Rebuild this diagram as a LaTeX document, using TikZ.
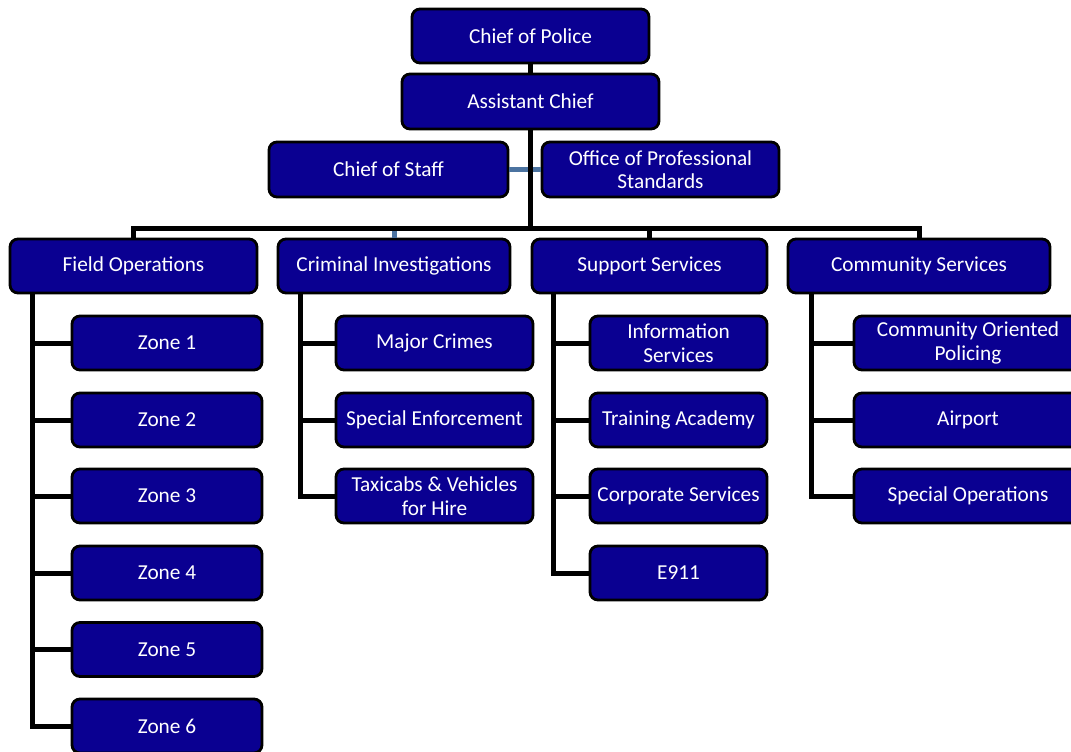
\documentclass[tikz,border=0pt]{standalone}
\usepackage{fontspec}
\setmainfont{Carlito}
\definecolor{boxblue}{RGB}{10,0,145}
\definecolor{linkblue}{RGB}{75,115,160}
\begin{document}
\begin{tikzpicture}[x=1pt,y=-1pt,
  box/.style={draw=black, line width=2.8pt, fill=boxblue, rounded corners=8pt,
    text=white, font=\fontsize{21.3}{23.5}\selectfont, align=center, inner sep=0pt,
    minimum height=54pt},
  conn/.style={draw=black, line width=5pt},
  bconn/.style={draw=linkblue, line width=5pt}]
\useasboundingbox (0,0) rectangle (1071,752);
\clip (0,0) rectangle (1071,752);
\fill[white] (0,0) rectangle (1071,752);
% top
\node[box, minimum width=237pt] (cop) at (530.5,36) {Chief of Police};
\node[box, minimum width=257pt, minimum height=55pt] (ac) at (530.5,101.5) {Assistant Chief};
\node[box, minimum width=239pt, minimum height=55pt] (cos) at (388.5,169.5) {Chief of Staff};
\node[box, minimum width=237pt, minimum height=55pt] (ops) at (660.5,169.5) {Office of Professional\\Standards};
% level 2
\node[box, minimum width=247pt] (fo) at (133.5,266) {Field Operations};
\node[box, minimum width=232pt] (ci) at (394,266) {Criminal Investigations};
\node[box, minimum width=235pt] (ss) at (649.5,266) {Support Services};
\node[box, minimum width=262pt] (cs) at (919,266) {Community Services};
% zones
\node[box, minimum width=190pt] (z1) at (167,343) {Zone 1};
\node[box, minimum width=190pt] (z2) at (167,420) {Zone 2};
\node[box, minimum width=190pt] (z3) at (167,496) {Zone 3};
\node[box, minimum width=190pt] (z4) at (167,573) {Zone 4};
\node[box, minimum width=190pt] (z5) at (167,649.5) {Zone 5};
\node[box, minimum width=190pt] (z6) at (167,726) {Zone 6};
% criminal
\node[box, minimum width=197pt] (c1) at (434.5,343) {Major Crimes};
\node[box, minimum width=197pt] (c2) at (434.5,420) {Special Enforcement};
\node[box, minimum width=197pt] (c3) at (434.5,496) {Taxicabs \& Vehicles\\for Hire};
% support
\node[box, minimum width=177pt] (s1) at (678.5,343) {Information\\Services};
\node[box, minimum width=177pt] (s2) at (678.5,420) {Training Academy};
\node[box, minimum width=177pt] (s3) at (678.5,496) {Corporate Services};
\node[box, minimum width=177pt] (s4) at (678.5,573) {E911};
% community
\node[box, minimum width=228pt] (m1) at (968,343) {Community Oriented\\Policing};
\node[box, minimum width=228pt] (m2) at (968,420) {Airport};
\node[box, minimum width=228pt] (m3) at (968,496) {Special Operations};
% connectors
\coordinate (bar) at (0,228);
\draw[bconn] (cos.east) -- (ops.west);
\draw[bconn] (ci.north) -- (ci.north |- bar);
\draw[conn] (cop.south) -- (ac.north);
\draw[conn] (ac.south) -- (ac.south |- bar);
\draw[conn] (fo.north) -- (fo.north |- bar) -- (cs.north |- bar) -- (cs.north);
\draw[conn] (ss.north) -- (ss.north |- bar);
% field ops branch
\coordinate (foL) at ([xshift=24pt]fo.south west);
\draw[conn] (foL) |- (z6.west);
\foreach \i in {1,...,5} \draw[conn] (z\i.west) -- (z\i.west -| foL);
% criminal branch
\coordinate (ciL) at ([xshift=24pt]ci.south west);
\draw[conn] (ciL) |- (c3.west);
\foreach \i in {1,2} \draw[conn] (c\i.west) -- (c\i.west -| ciL);
% support branch
\coordinate (ssL) at ([xshift=23pt]ss.south west);
\draw[conn] (ssL) |- (s4.west);
\foreach \i in {1,2,3} \draw[conn] (s\i.west) -- (s\i.west -| ssL);
% community branch
\coordinate (csL) at ([xshift=25pt]cs.south west);
\draw[conn] (csL) |- (m3.west);
\foreach \i in {1,2} \draw[conn] (m\i.west) -- (m\i.west -| csL);
\end{tikzpicture}
\end{document}
